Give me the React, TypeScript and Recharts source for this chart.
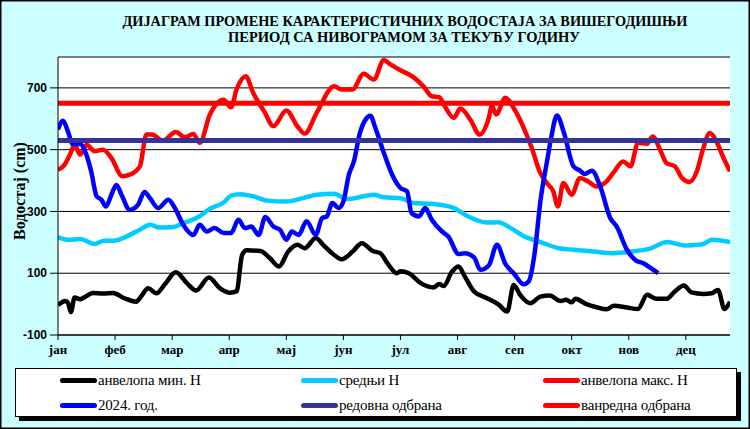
import React from 'react';
import { LineChart, Line, XAxis, YAxis, CartesianGrid, ReferenceLine } from 'recharts';

const TITLE_1 = 'ДИЈАГРАМ ПРОМЕНЕ КАРАКТЕРИСТИЧНИХ ВОДОСТАЈА ЗА ВИШЕГОДИШЊИ';
const TITLE_2 = 'ПЕРИОД СА НИВОГРАМОМ ЗА ТЕКУЋУ ГОДИНУ';
const Y_LABEL = 'Водостај (cm)';

const MONTHS = ['јан', 'феб', 'мар', 'апр', 'мај', 'јун', 'јул', 'авг', 'сеп', 'окт', 'нов', 'дец'];
const MONTH_TICKS = [0, 31, 62, 93, 124, 155, 186, 217, 248, 279, 310, 341];
const Y_TICKS = [-100, 100, 300, 500, 700];

const REDOVNA = 530;
const VANREDNA = 650;

// [day, value cm]
const MIN_H: [number, number][] = [
  [0, -3], [4, 10], [5.5, 3], [7, -26], [9, 21], [12, 16], [14, 21], [19, 36], [24.5, 34], [30, 36],
  [36, 19], [42.5, 8], [45, 24], [49, 51], [53.5, 35], [58, 64], [64, 103], [70, 68], [75, 44], [82, 86],
  [88, 51], [93.5, 37], [97, 41], [100, 159], [102.5, 174], [110, 172], [115, 149], [120, 122], [125, 170],
  [130, 192], [134, 181], [140, 214], [144, 192], [150, 159], [154, 145], [160, 170], [165, 197], [171, 172],
  [175, 165], [179, 132], [184, 100], [186, 106], [190.5, 100], [197, 68], [204, 54], [207, 65], [209.5, 59],
  [214, 105], [217.5, 122], [221, 89], [226, 41], [233, 19], [239, 0], [244, -24], [247.5, 62], [251, 30],
  [256.5, 3], [262, 24], [267, 28], [273, 10], [276, 14], [279, 6], [281, 17], [287, 0], [292.5, -10],
  [298, -17], [302, -5], [309, -11], [315, -16], [320, 30], [325, 17], [330.5, 17], [335, 41], [340, 60],
  [344, 38], [350.5, 33], [355, 35], [358.5, 46], [362, -16], [365, 8],
];

const MEAN_H: [number, number][] = [
  [0, 216], [6, 208], [12, 211], [20, 195], [25, 205], [30, 205], [39, 224], [44.5, 241], [50, 257],
  [55, 248], [62, 249], [68, 262], [76, 281], [82.5, 309], [90, 329], [94, 351], [99, 356], [106, 349],
  [114, 335], [124, 332], [133, 343], [140.5, 354], [150, 357], [157, 340], [166, 349], [171.5, 354],
  [177, 346], [186, 343], [193, 327], [204, 324], [215, 311], [222, 286], [233, 264], [239, 265], [246, 246],
  [254, 217], [262, 201], [272, 181], [280, 176], [291, 170], [302, 165], [311, 170], [321, 179], [331, 201],
  [340, 190], [350, 194], [355, 208], [365, 201],
];

const MAX_H: [number, number][] = [
  [0, 435], [3.5, 451], [6.5, 484], [9, 516], [12, 484], [15.5, 516], [20, 495], [24.5, 500], [29, 473],
  [35, 414], [39, 419], [44.5, 446], [48, 549], [51, 549], [57, 529], [64, 557], [69, 540], [73.5, 551],
  [77, 522], [82.5, 614], [90, 662], [94, 637], [97, 695], [102, 738], [106, 684], [112, 624], [117, 576],
  [124, 627], [130, 576], [134, 552], [140.5, 619], [150, 705], [154, 695], [160, 695], [166, 746],
  [171.5, 727], [177, 790], [180.5, 776], [186, 757], [193, 735], [198.5, 705], [203, 673], [207, 670],
  [210, 641], [215, 603], [218.5, 633], [224, 597], [229, 549], [234, 603], [235.7, 641], [238, 614],
  [243, 668], [247.5, 635], [253, 570], [257, 511], [262, 424], [265.5, 392], [269, 365], [271.5, 316],
  [274.5, 392], [279, 354], [283.5, 408], [288, 397], [292.5, 381], [297, 392], [301.5, 424], [307, 462],
  [311, 446], [315, 522], [320, 519], [323, 543], [327, 500], [330.5, 457], [335, 446], [339, 408],
  [343, 395], [347, 430], [350.5, 505], [354, 554], [358, 522], [361.5, 473], [365, 430],
];

const Y2024: [number, number][] = [
  [0, 565], [2.7, 594], [5.4, 559], [8, 518], [12, 518], [15.4, 484], [18, 430], [21, 349], [23.6, 338],
  [26, 316], [29, 354], [31.7, 386], [34.5, 354], [39, 305], [43.5, 322], [47, 363], [50, 343], [54.4, 311],
  [60, 338], [63.5, 311], [68, 257], [73.5, 224], [77, 257], [80.8, 235], [85, 246], [90, 230], [94, 230],
  [98, 273], [101.6, 246], [105, 251], [109, 224], [112.6, 282], [117, 251], [120.7, 240], [124, 208],
  [127, 235], [130.7, 224], [135, 268], [140, 224], [143.4, 278], [146, 284], [149, 327], [152.4, 311],
  [155, 332], [158, 419], [160.7, 462], [164, 554], [167, 597], [169.7, 610], [172.4, 570], [177, 489],
  [181.5, 419], [186, 376], [189.6, 365], [192, 295], [196, 284], [199.5, 311], [203, 273], [208.6, 235],
  [212, 219], [217.6, 162], [221, 165], [226, 151], [229.4, 111], [234, 125], [238.4, 192], [243, 130],
  [247.5, 100], [253, 64], [255.6, 73], [259, 170], [262, 332], [265.6, 462], [268, 543], [271, 611],
  [274.6, 559], [280, 446], [283.6, 432], [286, 421], [290, 432], [294.5, 381], [300, 278], [303.5, 251],
  [309, 176], [313.5, 143], [318, 132], [321.6, 118], [326, 100],
];

const toData = (pts: [number, number][]) => pts.map(([d, v]) => ({ d, v }));

const LEGEND = [
  { label: 'анвелопа мин. Н', color: '#000000', left: 60, top: 380 },
  { label: 'средњи Н', color: '#00ccff', left: 301, top: 380 },
  { label: 'анвелопа макс. Н', color: '#ff0000', left: 543, top: 380 },
  { label: '2024. год.', color: '#0000ff', left: 60, top: 405 },
  { label: 'редовна одбрана', color: '#333399', left: 301, top: 405 },
  { label: 'ванредна одбрана', color: '#ff0000', left: 543, top: 405 },
];

export default function App() {
  return (
    <div
      style={{
        position: 'absolute', left: 0, top: 0, width: 750, height: 429,
        background: '#ccffff', boxShadow: 'inset 0 0 0 1.5px #000', overflow: 'hidden',
      }}
    >
      <div style={{ position: 'absolute', left: 0, top: 0 }}>
        <LineChart width={750} height={429} margin={{ top: 57, right: 20, bottom: 64, left: 0 }}>
          <CartesianGrid fill="#ffffff" stroke="#000" vertical={false} strokeWidth={1} />
          <XAxis
            dataKey="d" type="number" domain={[0, 365]} ticks={MONTH_TICKS}
            tickFormatter={(v: number) => MONTHS[MONTH_TICKS.indexOf(v)] ?? ''}
            interval={0} height={30} tickSize={5} tickMargin={5}
            axisLine={{ stroke: '#000' }} tickLine={{ stroke: '#000' }}
            tick={{ fill: '#000', fontFamily: 'Liberation Serif', fontWeight: 'bold', fontSize: 13 }}
            allowDataOverflow
          />
          <XAxis xAxisId="top" orientation="top" type="number" domain={[0, 365]} height={0}
            tick={false} tickLine={false} axisLine={{ stroke: '#000' }} />
          <YAxis
            type="number" domain={[-100, 800]} ticks={Y_TICKS} interval={0} width={58}
            tickSize={8} tickMargin={3}
            axisLine={{ stroke: '#000' }} tickLine={{ stroke: '#000' }}
            tick={{ fill: '#000', fontFamily: 'Liberation Sans', fontWeight: 'bold', fontSize: 12 }}
            allowDataOverflow
          />
          <YAxis yAxisId="right" orientation="right" type="number" domain={[-100, 800]} width={0}
            tick={false} tickLine={false} axisLine={{ stroke: '#000' }} />
          <Line data={toData(MEAN_H)} dataKey="v" type="monotone" stroke="#00ccff" strokeWidth={4.5}
            dot={false} activeDot={false} isAnimationActive={false} />
          <Line data={toData(MIN_H)} dataKey="v" type="monotone" stroke="#000000" strokeWidth={4.5}
            dot={false} activeDot={false} isAnimationActive={false} />
          <Line data={toData(MAX_H)} dataKey="v" type="monotone" stroke="#ff0000" strokeWidth={4.5}
            dot={false} activeDot={false} isAnimationActive={false} />
          <Line data={toData(Y2024)} dataKey="v" type="monotone" stroke="#0000ff" strokeWidth={4.5}
            dot={false} activeDot={false} isAnimationActive={false} />
          <ReferenceLine y={VANREDNA} stroke="#ff0000" strokeWidth={5} />
          <ReferenceLine y={REDOVNA} stroke="#333399" strokeWidth={5} />
        </LineChart>
      </div>
      <svg width={750} height={429} style={{ position: 'absolute', left: 0, top: 0, pointerEvents: 'none' }}>
        <text x={405} y={26} textAnchor="middle" fontFamily="Liberation Serif" fontWeight="bold" fontSize={15}
          textLength={565} lengthAdjust="spacingAndGlyphs" fill="#000">{TITLE_1}</text>
        <text x={404} y={42} textAnchor="middle" fontFamily="Liberation Serif" fontWeight="bold" fontSize={15}
          textLength={352} lengthAdjust="spacingAndGlyphs" fill="#000">{TITLE_2}</text>
        <text transform="translate(25,191) rotate(-90)" textAnchor="middle" fontFamily="Liberation Serif"
          fontWeight="bold" fontSize={16} fill="#000">{Y_LABEL}</text>
      </svg>
      <div
        style={{
          position: 'absolute', left: 15, top: 368, width: 722, height: 49, boxSizing: 'border-box',
          background: '#fff', border: '1px solid #000', boxShadow: '4px 4px 0 #000',
        }}
      />
      {LEGEND.map((it) => (
        <div key={it.label} style={{ position: 'absolute', left: it.left, top: it.top - 9, height: 18,
          display: 'flex', alignItems: 'center', whiteSpace: 'nowrap' }}>
          <div style={{ width: 37, height: 5, borderRadius: 3, background: it.color }} />
          <span style={{ fontFamily: 'Liberation Serif', fontSize: 15, letterSpacing: -0.2, color: '#000',
            marginLeft: 1 }}>{it.label}</span>
        </div>
      ))}
    </div>
  );
}
